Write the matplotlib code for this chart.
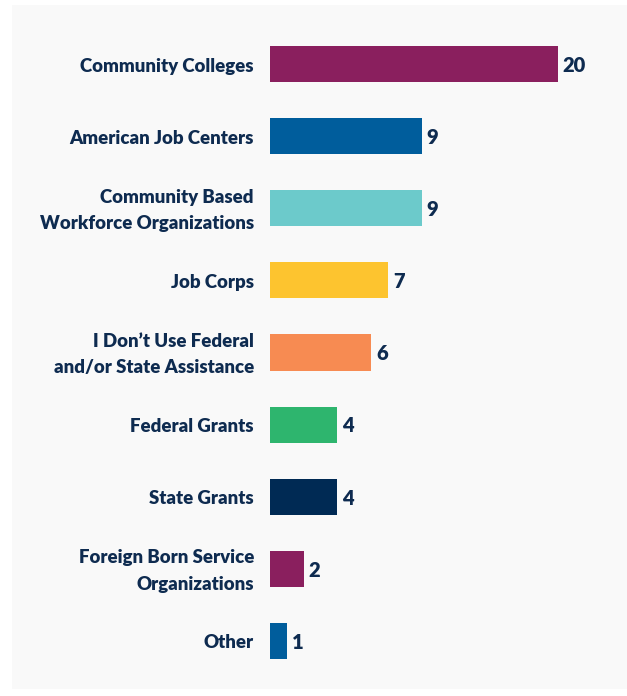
import matplotlib
matplotlib.use("Agg")
import matplotlib.pyplot as plt
from matplotlib.patches import Rectangle

categories = [
    "Community Colleges",
    "American Job Centers",
    "Community Based\nWorkforce Organizations",
    "Job Corps",
    "I Don\u2019t Use Federal\nand/or State Assistance",
    "Federal Grants",
    "State Grants",
    "Foreign Born Service\nOrganizations",
    "Other",
]
values = [20, 9, 9, 7, 6, 4, 4, 2, 1]
colors = ["#8A1F5E", "#005D9C", "#6CCACB", "#FDC42F", "#F78B52",
          "#2EB56E", "#002A54", "#8A1F5E", "#005D9C"]

text_color = "#0E2B50"
font = "Lato"
xmax = 17.1

W, H = 627, 696
fig = plt.figure(figsize=(W / 100, H / 100), dpi=100)
fig.patch.set_facecolor("white")
fig.patches.append(Rectangle((12 / W, 1 - 689 / H), 1 - 12 / W, (689 - 5) / H,
                             transform=fig.transFigure, facecolor="#F9F9F9",
                             edgecolor="none", zorder=-10))

ax = fig.add_axes([270 / W, 1 - 677 / H, (558 - 270) / W, (677 - 28) / H])
ax.set_zorder(5)
ax.set_facecolor("none")
ys = list(range(len(categories)))
ax.barh(ys, values, height=0.5, color=colors, zorder=2)
ax.set_xlim(0, xmax)
ax.set_ylim(len(categories) - 0.5, -0.5)

for y, v in zip(ys, values):
    ax.annotate(str(v), xy=(min(v, xmax), y), xytext=(3.5, -1),
                textcoords="offset points", va="center", ha="left",
                fontsize=14.5, fontweight="heavy", color=text_color,
                family=font, annotation_clip=False)

ax.set_yticks(ys)
ax.set_yticklabels([])
for y, lab in zip(ys, categories):
    ax.annotate(lab, xy=(0, y), xytext=(-16, -2), textcoords="offset pixels",
                ha="right", va="center", fontsize=13.4, fontweight="heavy",
                color=text_color, family=font, linespacing=1.68,
                annotation_clip=False)
ax.tick_params(axis="y", length=0)
ax.set_xticks([])
for s in ax.spines.values():
    s.set_visible(False)

fig.savefig("out.png", dpi=100)
